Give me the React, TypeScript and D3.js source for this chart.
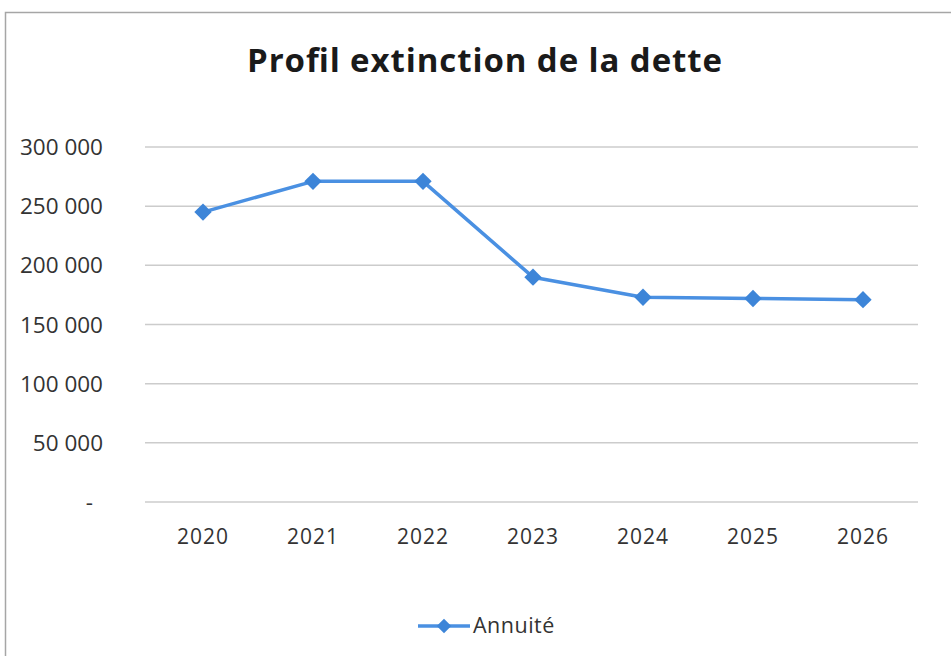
import React from "react";
import * as d3 from "d3";

const years = ["2020", "2021", "2022", "2023", "2024", "2025", "2026"];
const annuite = [245000, 271000, 271000, 190000, 173000, 172000, 171000];
const yTicks = [0, 50000, 100000, 150000, 200000, 250000, 300000];
const title = "Profil extinction de la dette";
const seriesName = "Annuité";

const W = 951;
const H = 656;
const FONT = "'Open Sans', 'Noto Sans', sans-serif";

export default function App() {
  const x = d3.scaleBand<string>().domain(years).range([148, 918]);
  const y = d3.scaleLinear().domain([0, 300000]).range([502, 147]);
  const cx = (d: string) => (x(d) as number) + x.bandwidth() / 2;
  const line = d3
    .line<number>()
    .x((_, i) => cx(years[i]))
    .y((v) => y(v));
  const fmt = (v: number) =>
    v === 0 ? "-" : d3.format(",")(v).replace(/,/g, " ");
  const marker = d3.symbol().type(d3.symbolSquare).size(150);
  const legendMarker = d3.symbol().type(d3.symbolSquare).size(105);

  return (
    <svg
      width={W}
      height={H}
      style={{ position: "absolute", left: 0, top: 0, background: "#fff" }}
    >
      <rect x={5.5} y={12.5} width={W + 10} height={H + 10} fill="#fff" stroke="#a6a6a6" strokeWidth={1.5} />
      <text
        x={484.5}
        y={72}
        textAnchor="middle"
        fontFamily={FONT}
        fontWeight={700}
        fontSize={33}
        fill="#1a1a1a"
        textLength={475}
        lengthAdjust="spacing"
      >
        {title}
      </text>
      {yTicks.map((t) => (
        <g key={t}>
          <line x1={145} x2={918} y1={y(t)} y2={y(t)} stroke="#cccccc" strokeWidth={1.5} />
          <text
            x={t === 0 ? 93 : 103}
            y={y(t) + 8}
            textAnchor="end"
            fontFamily={FONT}
            fontSize={22.5}
            fill="#333333"
          >
            {fmt(t)}
          </text>
        </g>
      ))}
      {years.map((yr) => (
        <text
          key={yr}
          x={cx(yr)}
          y={544}
          textAnchor="middle"
          fontFamily={FONT}
          fontSize={21}
          letterSpacing={1}
          fill="#333333"
        >
          {yr}
        </text>
      ))}
      <path d={line(annuite) || ""} fill="none" stroke="#4a90e2" strokeWidth={3.5} strokeLinejoin="round" />
      {annuite.map((v, i) => (
        <path
          key={i}
          d={marker() || ""}
          transform={`translate(${cx(years[i])},${y(v)}) rotate(45)`}
          fill="#3d85d8"
        />
      ))}
      <line x1={418} x2={470} y1={626} y2={626} stroke="#4a90e2" strokeWidth={3.5} />
      <path d={legendMarker() || ""} transform="translate(444,626) rotate(45)" fill="#3d85d8" />
      <text x={473} y={633} fontFamily={FONT} fontSize={21.5} letterSpacing={0.5} fill="#333333">
        {seriesName}
      </text>
    </svg>
  );
}
